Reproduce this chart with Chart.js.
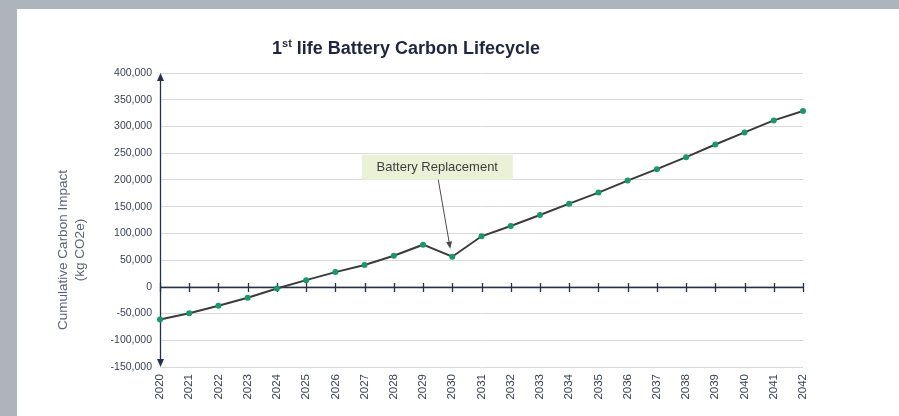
<!DOCTYPE html>
<html>
<head>
<meta charset="utf-8">
<script src="https://cdn.jsdelivr.net/npm/chart.js@4"></script>
<style>
  html, body { margin: 0; padding: 0; }
  body { width: 899px; height: 416px; background: #adb4bc; position: relative; overflow: hidden; }
  #panel { position: absolute; left: 17px; top: 9px; width: 882px; height: 407px; background: #fff; }
</style>
</head>
<body>
<div id="panel"><canvas id="carbon-chart" width="882" height="407"></canvas></div>
<script>
const years = ['2020', '2021', '2022', '2023', '2024', '2025', '2026', '2027', '2028', '2029', '2030',
  '2031', '2032', '2033', '2034', '2035', '2036', '2037', '2038', '2039', '2040', '2041', '2042'];
const cumulativeImpact = [-61000, -49500, -35500, -20300, -3000, 12500, 27500, 40700, 58100, 78800, 56300,
  94500, 113800, 134400, 155600, 176300, 198800, 220100, 242600, 266300, 288800, 311300, 328900];
const yTickValues = [-150000, -100000, -50000, 0, 50000, 100000, 150000, 200000, 250000, 300000, 350000, 400000];
const yTitleLines = ['Cumulative Carbon Impact', '(kg CO2e)'];
const noteText = 'Battery Replacement';
const notePointIndex = 10;

const AXIS_COLOR = '#27304a';
const FONT = '"Liberation Sans", Arial, sans-serif';

// axes drawn by hand: y with arrows at both ends, x along zero with cross ticks
const axisLines = {
  id: 'axisLines',
  beforeDatasetsDraw(chart) {
    const { ctx, chartArea, scales: { x, y } } = chart;
    const zeroY = Math.round(y.getPixelForValue(0)) + 0.5;
    const left = Math.round(chartArea.left) + 0.5;
    ctx.save();
    ctx.strokeStyle = AXIS_COLOR;
    ctx.fillStyle = AXIS_COLOR;
    ctx.lineWidth = 1.3;

    ctx.beginPath();
    ctx.moveTo(left, zeroY);
    ctx.lineTo(x.getPixelForValue(years.length - 1), zeroY);
    years.forEach((_, i) => {
      const px = Math.round(x.getPixelForValue(i)) + 0.5;
      ctx.moveTo(px, zeroY - 4.5);
      ctx.lineTo(px, zeroY + 4.5);
    });
    ctx.stroke();

    const top = y.getPixelForValue(400000);
    const bottom = y.getPixelForValue(-150000);
    ctx.beginPath();
    ctx.moveTo(left, top + 6);
    ctx.lineTo(left, bottom - 6);
    ctx.stroke();

    ctx.beginPath();
    ctx.moveTo(left, top);
    ctx.lineTo(left - 3.5, top + 8);
    ctx.lineTo(left + 3.5, top + 8);
    ctx.closePath();
    ctx.fill();

    ctx.beginPath();
    ctx.moveTo(left, bottom);
    ctx.lineTo(left - 3.5, bottom - 8);
    ctx.lineTo(left + 3.5, bottom - 8);
    ctx.closePath();
    ctx.fill();
    ctx.restore();
  },
};

const chartText = {
  id: 'chartText',
  afterDatasetsDraw(chart) {
    const { ctx, scales: { x, y } } = chart;
    ctx.save();

    // note box + arrow pointing at the replacement year
    const px = x.getPixelForValue(notePointIndex);
    const py = y.getPixelForValue(cumulativeImpact[notePointIndex]);
    const boxW = 151;
    const boxH = 25;
    const boxCx = px - 15;
    const boxBottom = py - 77;
    ctx.fillStyle = '#ebf1d6';
    ctx.fillRect(boxCx - boxW / 2, boxBottom - boxH, boxW, boxH);
    ctx.fillStyle = '#3d3d3d';
    ctx.font = '13px ' + FONT;
    ctx.textAlign = 'center';
    ctx.textBaseline = 'middle';
    ctx.fillText(noteText, boxCx, boxBottom - boxH / 2);

    const ax0 = boxCx + 1;
    const ay0 = boxBottom;
    const ax1 = px - 2;
    const ay1 = py - 8;
    const ang = Math.atan2(ay1 - ay0, ax1 - ax0);
    ctx.strokeStyle = '#4a4a4a';
    ctx.fillStyle = '#4a4a4a';
    ctx.lineWidth = 1;
    ctx.beginPath();
    ctx.moveTo(ax0, ay0);
    ctx.lineTo(ax1 - 6 * Math.cos(ang), ay1 - 6 * Math.sin(ang));
    ctx.stroke();
    ctx.beginPath();
    ctx.moveTo(ax1, ay1);
    ctx.lineTo(ax1 - 7 * Math.cos(ang) + 3 * Math.sin(ang), ay1 - 7 * Math.sin(ang) - 3 * Math.cos(ang));
    ctx.lineTo(ax1 - 7 * Math.cos(ang) - 3 * Math.sin(ang), ay1 - 7 * Math.sin(ang) + 3 * Math.cos(ang));
    ctx.closePath();
    ctx.fill();

    // y title, two rotated lines
    ctx.fillStyle = '#5b6272';
    ctx.font = '13.5px ' + FONT;
    ctx.textAlign = 'center';
    ctx.textBaseline = 'middle';
    yTitleLines.forEach((line, i) => {
      ctx.save();
      ctx.translate(46 + i * 17, 241);
      ctx.rotate(-Math.PI / 2);
      ctx.fillText(line, 0, 0);
      ctx.restore();
    });

    // title with superscript "st"
    const big = 'bold 18px ' + FONT;
    const small = 'bold 11px ' + FONT;
    ctx.fillStyle = '#1d2541';
    ctx.textAlign = 'left';
    ctx.textBaseline = 'alphabetic';
    ctx.font = big;
    const w1 = ctx.measureText('1').width;
    const w3 = ctx.measureText(' life Battery Carbon Lifecycle').width;
    ctx.font = small;
    const w2 = ctx.measureText('st').width;
    let tx = 389 - (w1 + w2 + w3) / 2;
    const ty = 45;
    ctx.font = big;
    ctx.fillText('1', tx, ty);
    tx += w1;
    ctx.font = small;
    ctx.fillText('st', tx, ty - 7);
    tx += w2;
    ctx.font = big;
    ctx.fillText(' life Battery Carbon Lifecycle', tx, ty);
    ctx.restore();
  },
};

const chartCanvas = document.getElementById('carbon-chart');
new Chart(chartCanvas, {
  type: 'line',
  data: {
    labels: years,
    datasets: [
      {
        data: cumulativeImpact,
        borderColor: '#3b3b3b',
        borderWidth: 2,
        tension: 0,
        pointRadius: 3,
        pointBorderWidth: 0,
        pointBackgroundColor: '#16996b',
        fill: false,
      },
    ],
  },
  options: {
    responsive: false,
    animation: false,
    devicePixelRatio: 1,
    layout: {
      padding: { top: 64, right: 96, bottom: 0, left: 0 },
    },
    plugins: {
      legend: { display: false },
      tooltip: { enabled: false },
    },
    scales: {
      x: {
        offset: false,
        grid: { display: false, drawTicks: false },
        border: { display: false },
        ticks: {
          autoSkip: false,
          maxRotation: 90,
          minRotation: 90,
          padding: 7,
          color: '#3c4256',
          font: { family: FONT, size: 11.5 },
        },
        afterFit(scale) {
          scale.height = 49;
        },
      },
      y: {
        min: -150000,
        max: 400000,
        afterBuildTicks(scale) {
          scale.ticks = yTickValues.map((v) => ({ value: v }));
        },
        grid: { color: '#d9d9d9', lineWidth: 1, drawTicks: false },
        border: { display: false },
        ticks: {
          padding: 8,
          color: '#3c4256',
          font: { family: FONT, size: 10.5 },
          callback: (v) => Number(v).toLocaleString('en-US'),
        },
        afterFit(scale) {
          scale.width = 143;
        },
      },
    },
  },
  plugins: [axisLines, chartText],
});
</script>
</body>
</html>
